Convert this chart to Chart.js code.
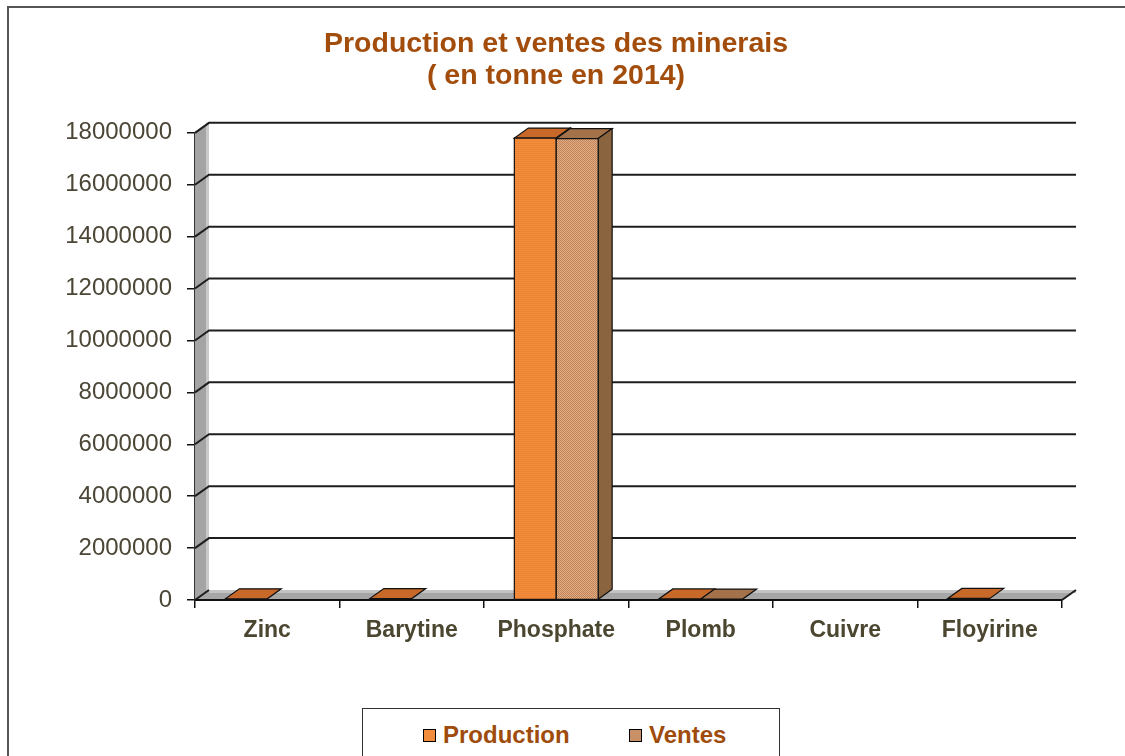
<!DOCTYPE html>
<html>
<head>
<meta charset="utf-8">
<script src="https://cdn.jsdelivr.net/npm/chart.js@4"></script>
<style>
html,body{margin:0;padding:0;background:#fff;}
#wrap{position:relative;width:1125px;height:756px;overflow:hidden;}
canvas{position:absolute;left:0;top:0;}
#legend{position:absolute;left:362px;top:708px;width:418px;height:60px;border:1.5px solid #333;box-sizing:border-box;background:#fff;
 font-family:"Liberation Sans",Arial,sans-serif;font-weight:bold;font-size:24px;color:#9e4b0b;}
.item{position:absolute;top:12px;display:flex;align-items:center;}
.sw{width:11px;height:11px;border:1px solid #000;margin-right:7px;}
</style>
</head>
<body>
<div id="wrap">
<canvas id="c" width="1125" height="756"></canvas>
<div id="legend"></div>
</div>
<script>
const titleLines = ["Production et ventes des minerais", "( en tonne en 2014)"];
const categories = ["Zinc", "Barytine", "Phosphate", "Plomb", "Cuivre", "Floyirine"];
const seriesNames = ["Production", "Ventes"];
const production = [45000, 55000, 17800000, 40000, 0, 60000];
const ventes = [0, 0, 17780000, 35000, 0, 0];
const yTicks = [0, 2000000, 4000000, 6000000, 8000000, 10000000, 12000000, 14000000, 16000000, 18000000];

const DX = 14, DY = 10;
const FONT = '"Liberation Sans", Arial, sans-serif';

function makePattern(kind) {
  const p = document.createElement('canvas');
  p.width = 4; p.height = 4;
  const g = p.getContext('2d');
  if (kind === 'prod') {
    g.fillStyle = '#f38d3e'; g.fillRect(0, 0, 4, 4);
    g.fillStyle = '#ec8434'; g.fillRect(0, 1, 4, 1); g.fillRect(0, 3, 4, 1);
  } else {
    g.fillStyle = '#e2ac84'; g.fillRect(0, 0, 4, 4);
    g.fillStyle = '#c08458';
    g.fillRect(0, 0, 1, 1); g.fillRect(2, 0, 1, 1); g.fillRect(1, 1, 1, 1); g.fillRect(3, 1, 1, 1);
    g.fillRect(0, 2, 1, 1); g.fillRect(2, 2, 1, 1); g.fillRect(1, 3, 1, 1); g.fillRect(3, 3, 1, 1);
  }
  return document.getElementById('c').getContext('2d').createPattern(p, 'repeat');
}
const prodPattern = makePattern('prod');
const ventPattern = makePattern('vent');
const faceColors = [
  { front: prodPattern, top: '#c8692a', side: '#a85a26', swatch: '#f38d3e' },
  { front: ventPattern, top: '#a4724a', side: '#8a633f', swatch: '#c99068' }
];

function poly(ctx, pts, fill, stroke) {
  ctx.beginPath();
  ctx.moveTo(pts[0][0], pts[0][1]);
  for (let i = 1; i < pts.length; i++) ctx.lineTo(pts[i][0], pts[i][1]);
  ctx.closePath();
  if (fill) { ctx.fillStyle = fill; ctx.fill(); }
  if (stroke) { ctx.strokeStyle = stroke; ctx.lineWidth = 1.2; ctx.stroke(); }
}

const framePlugin = {
  id: 'frame',
  beforeDraw(chart) {
    const ctx = chart.ctx;
    ctx.save();
    ctx.strokeStyle = '#555';
    ctx.lineWidth = 2;
    ctx.strokeRect(8, 7, 1300, 900);
    ctx.restore();
  }
};

const wallsPlugin = {
  id: 'walls',
  beforeDatasetsDraw(chart) {
    const ctx = chart.ctx;
    const { left: L, right: R, top: T, bottom: B } = chart.chartArea;
    const ys = chart.scales.y;
    ctx.save();
    poly(ctx, [[L, B], [L + DX, B - DY], [L + DX, T - DY], [L, T]], '#a4a4a4', null);
    ctx.fillStyle = '#c9c9c9';
    ctx.fillRect(L + DX - 3, T - DY, 3, B - T);
    poly(ctx, [[L, B], [R, B], [R + DX, B - DY], [L + DX, B - DY]], '#a6a6a6', null);
    ctx.fillStyle = '#c4c4c4';
    ctx.fillRect(L + DX, B - DY, R - L, 3);
    ctx.strokeStyle = '#1e1e1e';
    ctx.lineWidth = 2;
    yTicks.forEach(v => {
      if (v === 0) return;
      const y = ys.getPixelForValue(v);
      ctx.beginPath();
      ctx.moveTo(L, y);
      ctx.lineTo(L + DX, y - DY);
      ctx.lineTo(R + DX, y - DY);
      ctx.stroke();
    });
    ctx.beginPath();
    ctx.moveTo(L, B); ctx.lineTo(L + DX, B - DY);
    ctx.moveTo(R, B); ctx.lineTo(R + DX, B - DY);
    ctx.stroke();
    ctx.restore();
  },
  afterDatasetsDraw(chart) {
    const ctx = chart.ctx;
    ctx.save();
    ctx.lineWidth = 1.2;
    for (let i = 0; i < categories.length; i++) {
      chart.data.datasets.forEach((ds, d) => {
        if (!ds.data[i]) return;
        const el = chart.getDatasetMeta(d).data[i];
        const { x, y, base, width } = el.getProps(['x', 'y', 'base', 'width'], true);
        const l = x - width / 2, r = x + width / 2;
        const c = faceColors[d];
        poly(ctx, [[l, y], [r, y], [r + DX, y - DY], [l + DX, y - DY]], c.top, '#111');
        if (base - y > 2) {
          poly(ctx, [[r, y], [r + DX, y - DY], [r + DX, base - DY], [r, base]], c.side, '#111');
          poly(ctx, [[l, y], [r, y], [r, base], [l, base]], c.front, '#111');
        }
      });
    }
    const { left: L, right: R, bottom: B } = chart.chartArea;
    ctx.strokeStyle = '#111'; ctx.lineWidth = 2;
    ctx.beginPath(); ctx.moveTo(L, B); ctx.lineTo(R, B); ctx.stroke();
    ctx.restore();
  }
};

const chart = new Chart(document.getElementById('c'), {
  type: 'bar',
  data: {
    labels: categories,
    datasets: [
      { label: seriesNames[0], data: production, backgroundColor: prodPattern, borderColor: '#111', borderWidth: 1,
        categoryPercentage: 0.58, barPercentage: 1.0 },
      { label: seriesNames[1], data: ventes, backgroundColor: ventPattern, borderColor: '#111', borderWidth: 1,
        categoryPercentage: 0.58, barPercentage: 1.0 }
    ]
  },
  options: {
    responsive: false,
    animation: false,
    layout: { padding: { left: 50, right: 63, top: 0, bottom: 0 } },
    plugins: {
      legend: { display: false },
      tooltip: { enabled: false },
      title: {
        display: true,
        text: titleLines,
        color: '#a34d0c',
        font: { family: FONT, size: 28.5, weight: 'bold', lineHeight: 1.12 },
        padding: { top: 28, bottom: 41 }
      }
    },
    scales: {
      x: {
        grid: { offset: true, drawOnChartArea: false, tickLength: 8, color: '#111', lineWidth: 1.5 },
        border: { display: true, color: '#111', width: 2 },
        ticks: { color: '#4b4630', padding: 9, font: { family: FONT, size: 23, weight: 'bold' }, maxRotation: 0 },
        afterFit(s) { s.height = 156; }
      },
      y: {
        min: 0, max: 18000000,
        afterBuildTicks(s) { s.ticks = yTicks.map(v => ({ value: v })); },
        grid: { drawOnChartArea: false, tickLength: 8, color: '#111', lineWidth: 1.5 },
        border: { display: true, color: '#333', width: 2 },
        ticks: { color: '#4b4636', padding: 15, font: { family: FONT, size: 24 }, callback: v => String(v) },
        afterFit(s) { s.width = 145; }
      }
    }
  },
  plugins: [framePlugin, wallsPlugin]
});

const lg = document.getElementById('legend');
const xs = [60, 266];
chart.data.datasets.forEach((ds, d) => {
  const it = document.createElement('div');
  it.className = 'item';
  it.style.left = xs[d] + 'px';
  const sw = document.createElement('span');
  sw.className = 'sw';
  sw.style.background = faceColors[d].swatch;
  const tx = document.createElement('span');
  tx.textContent = ds.label;
  it.appendChild(sw); it.appendChild(tx);
  lg.appendChild(it);
});
</script>
</body>
</html>
